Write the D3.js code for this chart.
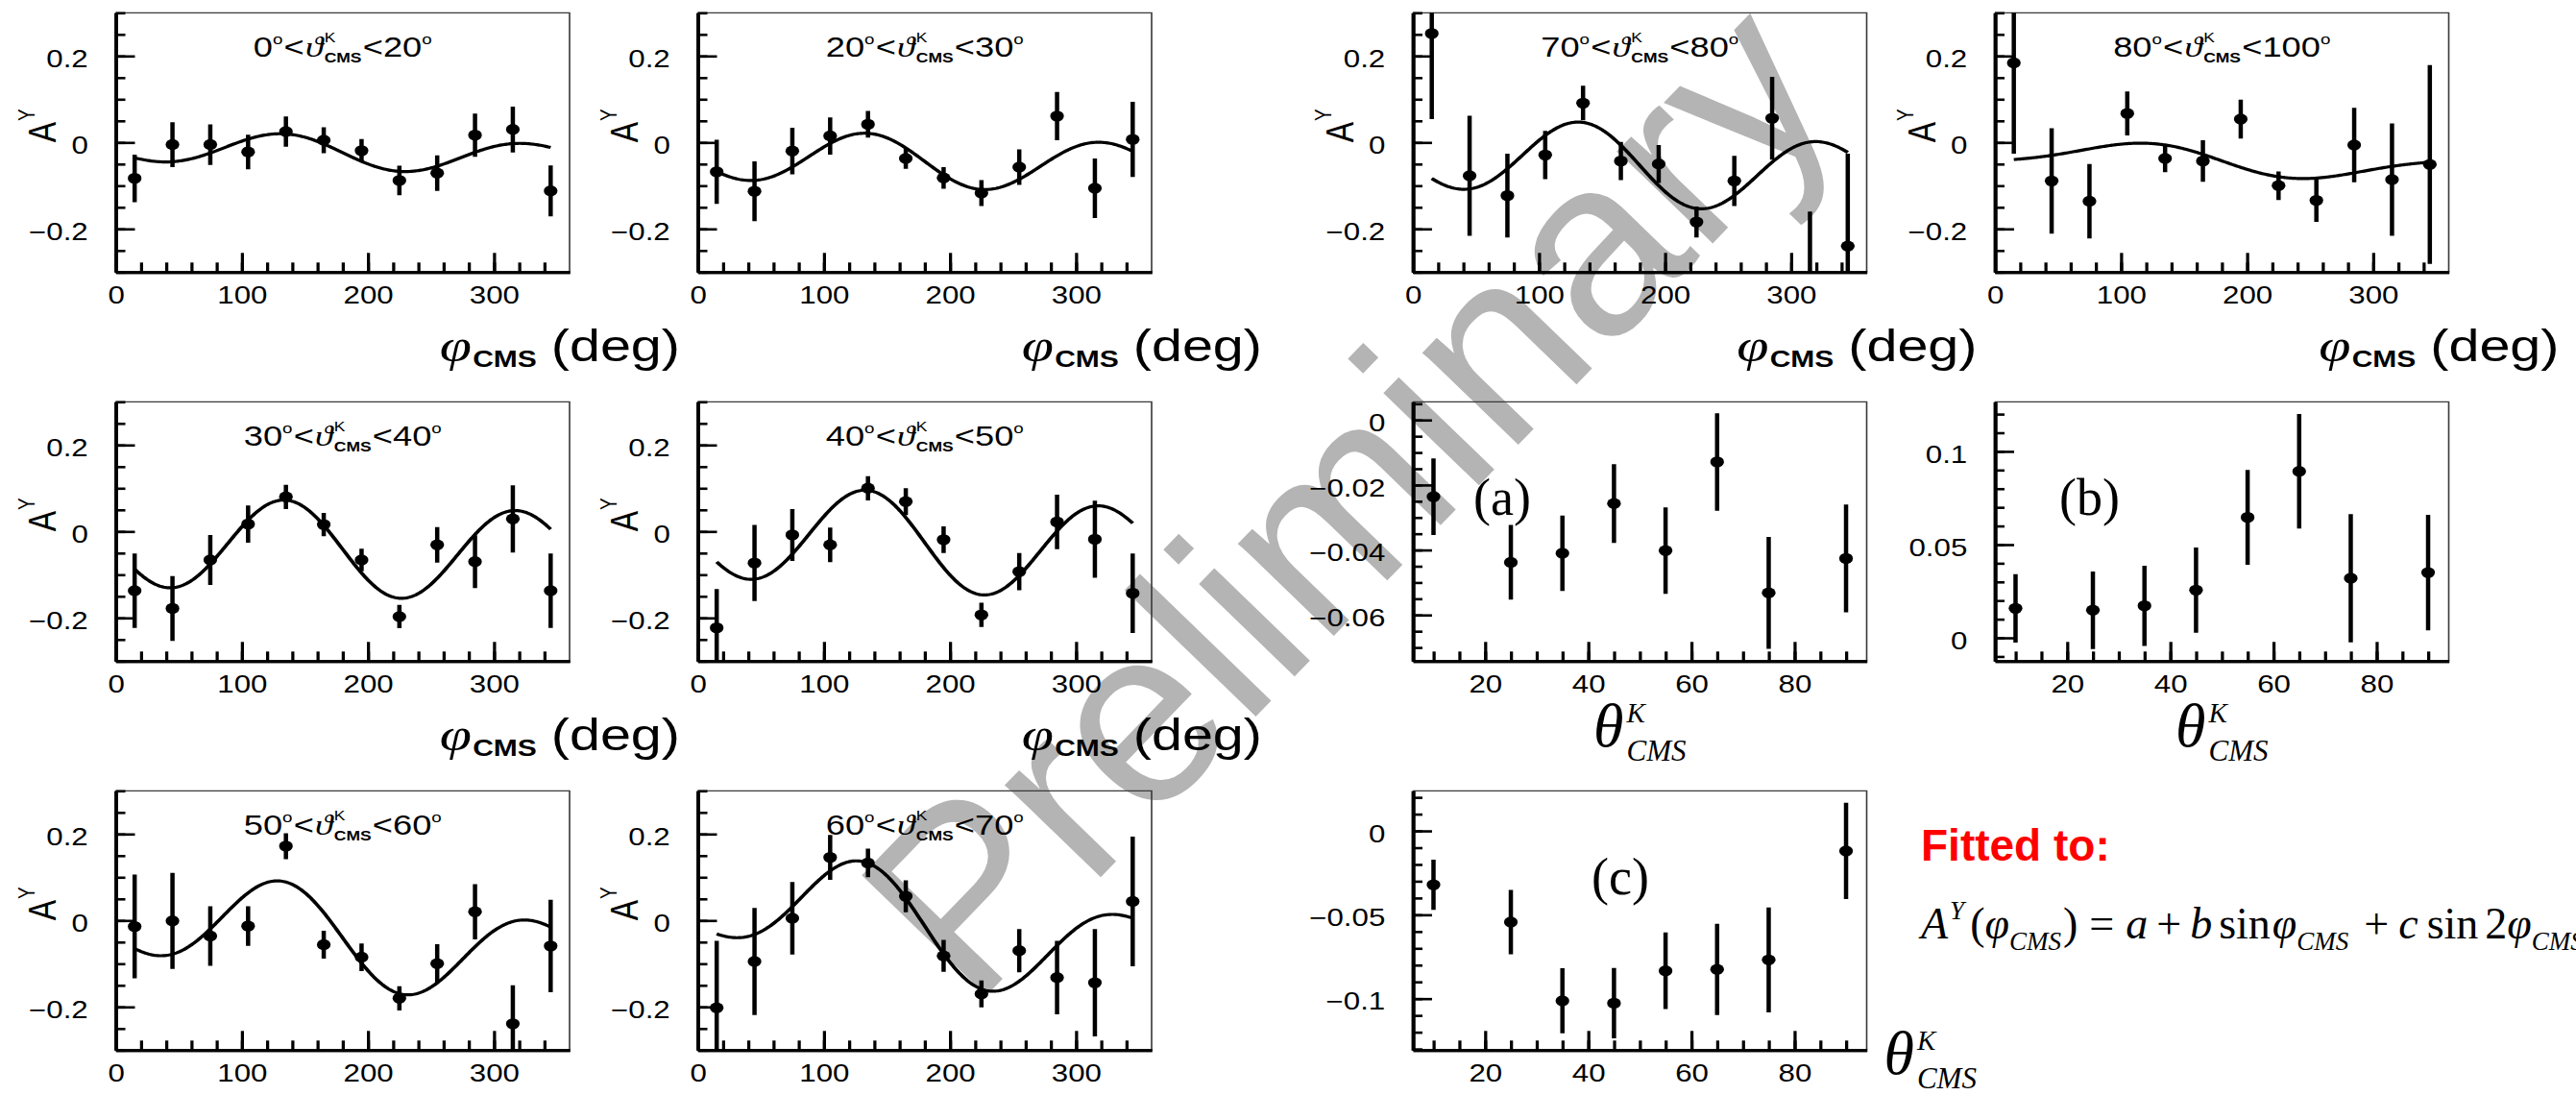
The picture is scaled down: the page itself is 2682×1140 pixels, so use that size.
<!DOCTYPE html>
<html>
<head>
<meta charset="utf-8">
<script src="https://cdn.jsdelivr.net/npm/d3@7"></script>
<style>
  body { margin: 0; background: #fff; }
  svg { display: block; }
</style>
</head>
<body>
<svg id="fig" width="2682" height="1140"></svg>
<script>
// ---------- data ----------
// azimuthal bin centres (deg)
const phiCenters = [15, 45, 75, 105, 135, 165, 195, 225, 255, 285, 315, 345];

// polar-angle bins of the kaon (deg)
const thetaLow  = [0, 20, 30, 40, 50, 60, 70, 80];
const thetaHigh = [20, 30, 40, 50, 60, 70, 80, 100];
const thetaCenters = [10, 25, 35, 45, 55, 65, 75, 90];

// A^Y vs phi, one array per theta bin
const asym1 = [-0.083, -0.005, -0.005, -0.022, 0.025, 0.005, -0.019, -0.088, -0.071, 0.017, 0.030, -0.112];
const err1  = [0.055, 0.052, 0.047, 0.040, 0.035, 0.030, 0.027, 0.034, 0.041, 0.050, 0.053, 0.059];
const asym2 = [-0.068, -0.113, -0.020, 0.015, 0.042, -0.037, -0.082, -0.117, -0.057, 0.061, -0.106, 0.007];
const err2  = [0.074, 0.069, 0.054, 0.043, 0.031, 0.024, 0.025, 0.030, 0.041, 0.056, 0.069, 0.087];
const asym3 = [-0.137, -0.178, -0.066, 0.017, 0.080, 0.016, -0.066, -0.197, -0.031, -0.070, 0.029, -0.137];
const err3  = [0.086, 0.075, 0.058, 0.043, 0.028, 0.027, 0.026, 0.027, 0.041, 0.061, 0.078, 0.086];
const asym4 = [-0.223, -0.073, -0.008, -0.031, 0.100, 0.069, -0.019, -0.193, -0.093, 0.022, -0.018, -0.143];
const err4  = [0.090, 0.088, 0.060, 0.040, 0.028, 0.031, 0.031, 0.028, 0.043, 0.063, 0.089, 0.092];
const asym5 = [-0.014, -0.001, -0.036, -0.013, 0.172, -0.056, -0.085, -0.180, -0.100, 0.020, -0.239, -0.059];
const err5  = [0.120, 0.111, 0.069, 0.046, 0.030, 0.032, 0.032, 0.028, 0.045, 0.064, 0.089, 0.107];
const asym6 = [-0.202, -0.095, 0.005, 0.146, 0.133, 0.056, -0.082, -0.170, -0.070, -0.132, -0.144, 0.044];
const err6  = [0.155, 0.124, 0.084, 0.052, 0.033, 0.037, 0.037, 0.031, 0.050, 0.085, 0.124, 0.150];
const asym7 = [0.252, -0.077, -0.123, -0.029, 0.091, -0.043, -0.050, -0.184, -0.089, 0.056, -0.330, -0.240];
const err7  = [0.198, 0.139, 0.097, 0.056, 0.040, 0.044, 0.044, 0.036, 0.058, 0.096, 0.170, 0.214];
const asym8 = [0.184, -0.089, -0.136, 0.067, -0.037, -0.043, 0.054, -0.100, -0.134, -0.006, -0.086, -0.051];
const err8  = [0.210, 0.122, 0.086, 0.051, 0.032, 0.048, 0.045, 0.033, 0.050, 0.086, 0.130, 0.230];

// fit parameters a, b, c of  A = a + b sin(phi) + c sin(2 phi)  per theta bin
const fitA    = [-0.0236, -0.0438, -0.0410, -0.0257, -0.0402, -0.0129, -0.0532, -0.0426];
const fitAErr = [0.0118, 0.0115, 0.0116, 0.0121, 0.0133, 0.0150, 0.0172, 0.0166];
const fitB    = [0.0158, 0.0148, 0.0172, 0.0256, 0.0646, 0.0893, 0.0320, 0.0350];
const fitBErr = [0.0183, 0.0208, 0.0215, 0.0229, 0.0254, 0.0307, 0.0344, 0.0310];
const fitC    = [-0.0321, -0.0544, -0.1013, -0.1027, -0.0834, -0.0826, -0.0769, -0.0120];
const fitCErr = [0.0150, 0.0192, 0.0194, 0.0210, 0.0228, 0.0272, 0.0313, 0.0287];

// axis tick labels
const phiTickLabels = [0, 100, 200, 300];
const asymTickLabels = [-0.2, 0, 0.2];
const thetaTickLabels = [20, 40, 60, 80];
const aTickLabels = [-0.06, -0.04, -0.02, 0];
const bTickLabels = [0, 0.05, 0.1];
const cTickLabels = [-0.1, -0.05, 0];

// ---------- layout ----------
const svg = d3.select("#fig");
svg.append("rect").attr("width", 2682).attr("height", 1140).attr("fill", "#fff");

const STRETCH = 1.25;          // the ROOT canvases are widened on the slide
const PW = 472.5, PH = 270;
const NW = PW / STRETCH;
const colX = [120.5, 726.5, 1471, 2077];
const rowY = [13.3, 418.3, 823.3];
const SANS = "'Liberation Sans', Arial, Helvetica, sans-serif";
const SERIF = "'Liberation Serif', 'Times New Roman', serif";

// lays out a run of text pieces (sub/superscripts, mixed fonts) in one line
function richText(parent, x, y, segs, anchor, base, extra) {
  const outer = parent.append("g").attr("transform", `translate(${x},${y}) ${extra || ""}`);
  const g = outer.append("g");
  let cx = 0, prevStart = 0;
  for (const s of segs) {
    const italic = s.italic !== undefined ? s.italic : !!base.italic;
    const t = g.append("text")
      .attr("font-family", s.family || base.family)
      .attr("font-size", s.fs || base.fs)
      .attr("font-style", italic ? "italic" : "normal")
      .attr("font-weight", s.bold ? "bold" : "normal")
      .attr("fill", s.fill || base.fill || "#000")
      .attr("y", s.dy || 0)
      .text(s.t);
    const start = s.back ? prevStart : cx + (s.gap || 0);
    t.attr("x", start);
    const w = t.node().getComputedTextLength();
    if (!s.back) prevStart = start;
    cx = Math.max(cx, start + w);
  }
  const off = anchor === "middle" ? -cx / 2 : anchor === "end" ? -cx : 0;
  g.attr("transform", `translate(${off},0)`);
  return outer;
}

// ---------- watermark ----------
svg.append("text")
  .attr("transform", "translate(1012,1052) rotate(-46)")
  .attr("font-family", SANS)
  .attr("font-size", 262)
  .attr("fill", "#b4b4b4")
  .text("Preliminary");

// ---------- ROOT-style frame with inward ticks ----------
let clipCount = 0;
function rootFrame(x0, y0, cfg) {
  const g = svg.append("g").attr("transform", `translate(${x0},${y0}) scale(${STRETCH},1)`);
  const x = d3.scaleLinear().domain(cfg.xDomain).range([0, NW]);
  const y = d3.scaleLinear().domain(cfg.yDomain).range([PH, 0]);

  g.append("path").attr("d", `M0,0H${NW}V${PH}`)
    .attr("fill", "none").attr("stroke", "#3a3a3a").attr("stroke-width", 1.3);

  const styleAxis = sel => {
    sel.attr("font-family", SANS).attr("font-size", 25);
    sel.select(".domain").attr("stroke-width", 3).attr("stroke", "#000");
    sel.selectAll(".tick line").attr("stroke-width", 2.6).attr("stroke", "#000");
    sel.selectAll(".tick text").attr("fill", "#000");
  };

  g.append("g").attr("transform", `translate(0,${PH})`)
    .call(d3.axisBottom(x).tickValues(cfg.xMinor).tickSize(-10).tickSizeOuter(0).tickFormat(""))
    .call(styleAxis);
  g.append("g").attr("transform", `translate(0,${PH})`)
    .call(d3.axisBottom(x).tickValues(cfg.xMajor).tickSize(-20).tickSizeOuter(0).tickPadding(15)
      .tickFormat(d3.format("")))
    .call(styleAxis);
  g.append("g")
    .call(d3.axisLeft(y).tickValues(cfg.yMinor).tickSize(-8).tickSizeOuter(0).tickFormat(""))
    .call(styleAxis);
  g.append("g")
    .call(d3.axisLeft(y).tickValues(cfg.yMajor).tickSize(-16).tickSizeOuter(0).tickPadding(23)
      .tickFormat(d3.format("")))
    .call(styleAxis)
    .call(s => s.selectAll(".tick text").attr("dy", "0.45em"));

  const cid = "frameclip" + (clipCount++);
  g.append("clipPath").attr("id", cid).append("rect").attr("width", NW).attr("height", PH);
  const plot = g.append("g").attr("clip-path", `url(#${cid})`);
  return { g, plot, x, y };
}

function drawPoints(f, xs, vals, errs) {
  const idx = d3.range(xs.length);
  f.plot.append("g").selectAll("line").data(idx).join("line")
    .attr("x1", i => f.x(xs[i])).attr("x2", i => f.x(xs[i]))
    .attr("y1", i => f.y(vals[i] - errs[i])).attr("y2", i => f.y(vals[i] + errs[i]))
    .attr("stroke", "#000").attr("stroke-width", 3.6);
  f.plot.append("g").selectAll("circle").data(idx).join("circle")
    .attr("cx", i => f.x(xs[i])).attr("cy", i => f.y(vals[i]))
    .attr("r", 5.7).attr("fill", "#000");
}

// ---------- A^Y(phi) panels ----------
const phiBins = [
  { vals: asym1, errs: err1, col: 0, row: 0 },
  { vals: asym2, errs: err2, col: 1, row: 0 },
  { vals: asym3, errs: err3, col: 0, row: 1 },
  { vals: asym4, errs: err4, col: 1, row: 1 },
  { vals: asym5, errs: err5, col: 0, row: 2 },
  { vals: asym6, errs: err6, col: 1, row: 2 },
  { vals: asym7, errs: err7, col: 2, row: 0 },
  { vals: asym8, errs: err8, col: 3, row: 0 }
];
const phiGrid = d3.range(15, 345.001, 1);
const rad = Math.PI / 180;

phiBins.forEach((bin, k) => {
  const f = rootFrame(colX[bin.col], rowY[bin.row], {
    xDomain: [0, 360], yDomain: [-0.3, 0.3],
    xMajor: phiTickLabels, xMinor: d3.range(20, 360, 20),
    yMajor: asymTickLabels, yMinor: d3.range(-0.3, 0.3001, 0.05)
  });
  // fitted curve from the fitted parameters of this theta bin
  const fit = p => fitA[k] + fitB[k] * Math.sin(p * rad) + fitC[k] * Math.sin(2 * p * rad);
  f.plot.append("path")
    .attr("d", d3.line().x(p => f.x(p)).y(p => f.y(fit(p)))(phiGrid))
    .attr("fill", "none").attr("stroke", "#000").attr("stroke-width", 3.2);
  drawPoints(f, phiCenters, bin.vals, bin.errs);

  // bin title
  richText(f.g, NW / 2, 46, [
    { t: String(thetaLow[k]) },
    { t: "o", fs: 15, dy: -13 },
    { t: "<", gap: 1 },
    { t: "ϑ", family: SERIF, italic: true, fs: 30, gap: 1 },
    { t: "K", fs: 14, dy: -15, gap: 1 },
    { t: "CMS", fs: 14, bold: true, dy: 6, back: true },
    { t: "<", gap: 1 },
    { t: String(thetaHigh[k]) },
    { t: "o", fs: 15, dy: -13 }
  ], "middle", { fs: 29, family: SANS });

  // y axis title
  richText(f.g, -50, f.y(0), [
    { t: "A", fs: 32 },
    { t: "Y", fs: 19, dy: -18, gap: 1 }
  ], "start", { fs: 32, family: SANS }, "rotate(-90)");

  // x axis title
  if (bin.row < 2) {
    richText(f.g, NW + 92, PH + 93, [
      { t: "φ", family: SERIF, italic: true, fs: 48 },
      { t: "CMS", bold: true, fs: 24, dy: 6, gap: 1 },
      { t: "(deg)", fs: 46, gap: 12 }
    ], "end", { fs: 46, family: SANS });
  }
});

// ---------- fit parameters vs theta ----------
const parPanels = [
  { vals: fitA, errs: fitAErr, col: 2, row: 1, yDomain: [-0.0742, 0.0056], yMajor: aTickLabels,
    yMinor: d3.range(-0.07, 0.0051, 0.005), tag: "(a)", tagX: 1534, tagY: 536 },
  { vals: fitB, errs: fitBErr, col: 3, row: 1, yDomain: [-0.0125, 0.1266], yMajor: bTickLabels,
    yMinor: d3.range(-0.01, 0.1201, 0.01), tag: "(b)", tagX: 2144, tagY: 536 },
  { vals: fitC, errs: fitCErr, col: 2, row: 2, yDomain: [-0.1307, 0.0239], yMajor: cTickLabels,
    yMinor: d3.range(-0.13, 0.0201, 0.01), tag: "(c)", tagX: 1657, tagY: 931 }
];

const thetaTitle = [
  { t: "θ", fs: 64 },
  { t: "K", fs: 29, dy: -25, gap: 3 },
  { t: "CMS", fs: 31, dy: 15, back: true }
];

parPanels.forEach(p => {
  const f = rootFrame(colX[p.col], rowY[p.row], {
    xDomain: [6, 94], yDomain: p.yDomain,
    xMajor: thetaTickLabels, xMinor: d3.range(10, 91, 5),
    yMajor: p.yMajor, yMinor: p.yMinor
  });
  drawPoints(f, thetaCenters, p.vals, p.errs);

  svg.append("text").attr("x", p.tagX).attr("y", p.tagY)
    .attr("font-family", SERIF).attr("font-size", 54).attr("fill", "#000").text(p.tag);

  const x0 = colX[p.col], y0 = rowY[p.row];
  if (p.row === 1) {
    richText(svg, x0 + PW / 2, y0 + PH + 89, thetaTitle, "middle", { fs: 64, family: SERIF, italic: true });
  } else {
    richText(svg, x0 + PW + 18, y0 + PH + 25, thetaTitle, "start", { fs: 64, family: SERIF, italic: true });
  }
});

// ---------- fit function annotation ----------
svg.append("text").attr("x", 2000).attr("y", 896)
  .attr("font-family", SANS).attr("font-weight", "bold").attr("font-size", 46)
  .attr("fill", "#ff0000").text("Fitted to:");

richText(svg, 2000, 977, [
  { t: "A", italic: true },
  { t: "Y", italic: true, fs: 27, dy: -20, gap: 2 },
  { t: "(", gap: 6 },
  { t: "φ", italic: true },
  { t: "CMS", italic: true, fs: 27, dy: 12 },
  { t: ")", gap: 2 },
  { t: "=", gap: 12 },
  { t: "a", italic: true, gap: 12 },
  { t: "+", gap: 9 },
  { t: "b", italic: true, gap: 9 },
  { t: "sin", gap: 7 },
  { t: "φ", italic: true, gap: 2 },
  { t: "CMS", italic: true, fs: 27, dy: 12 },
  { t: "+", gap: 16 },
  { t: "c", italic: true, gap: 10 },
  { t: "sin", gap: 9 },
  { t: "2", gap: 7 },
  { t: "φ", italic: true },
  { t: "CMS", italic: true, fs: 27, dy: 12 }
], "start", { fs: 46, family: SERIF });
</script>
</body>
</html>
